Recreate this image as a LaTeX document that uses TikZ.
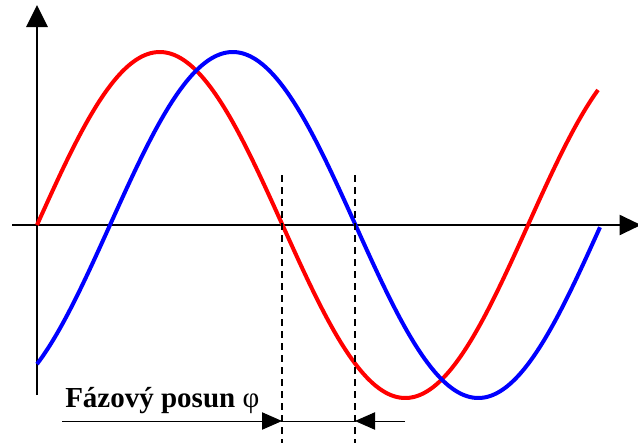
\documentclass[tikz,border=0pt]{standalone}
\usepackage{fontspec}
\setmainfont{Liberation Serif}
\usetikzlibrary{arrows.meta, positioning}

\tikzset{
  axisline/.style={black, line width=1.5pt},
  wave/.style={line width=3pt, samples=120, smooth},
  guide/.style={black, line width=1.5pt, dash pattern=on 5pt off 4pt},
  dimline/.style={black, line width=0.7pt},
}

\begin{document}
\begin{tikzpicture}[x=0.75pt, y=-0.75pt, font=\bfseries\fontsize{21.75}{24}\selectfont]

\useasboundingbox (0,0) rectangle (638,443);

% =============================================================================
% Two sine waves of equal period (491 px), shifted by 73 px
%   red  : zero at x = 37
%   blue : zero at x = 110
% =============================================================================

% --- Axes --------------------------------------------------------------------
\coordinate (o) at (37,225);
\coordinate (ybot) at (37,395);
\coordinate (ytop) at (37,5);
\coordinate (xleft) at (12,225);
\coordinate (xright) at (641,225);

\draw[axisline,-{Triangle[length=16.5pt,width=16pt]}] (ybot) -- (ytop);
\draw[axisline,-{Triangle[length=16pt,width=15pt]}] (xleft) -- (xright);

% --- Waves -------------------------------------------------------------------
\draw[wave, red, domain=37:598]
  plot (\x, {225-173*sin((\x-37)/491*360)});
\draw[wave, blue, domain=37:600]
  plot (\x, {225-173*sin((\x-110)/491*360)});

% --- Guides through the zero crossings ---------------------------------------
\coordinate (ra) at (282,175);
\coordinate (rb) at (282,443);
\coordinate (ba) at (355,175);
\coordinate (bb) at (355,443);
\draw[guide] (ra) -- (rb);
\draw[guide] (ba) -- (bb);

% --- Phase shift dimension ---------------------------------------------------
\coordinate (dl) at (62,421);
\coordinate (dr) at (405,421);
\coordinate (da) at (282,421);
\coordinate (db) at (355,421);
\draw[dimline] (da) -- (db);
\draw[dimline,-{Triangle[length=15pt,width=13pt]}] (dl) -- (da);
\draw[dimline,-{Triangle[length=15pt,width=13pt]}] (dr) -- (db);

\node[anchor=base west, inner sep=0pt] (lbl) at (65,407)
  {Fázový posun \textmd{φ}};

\end{tikzpicture}
\end{document}
